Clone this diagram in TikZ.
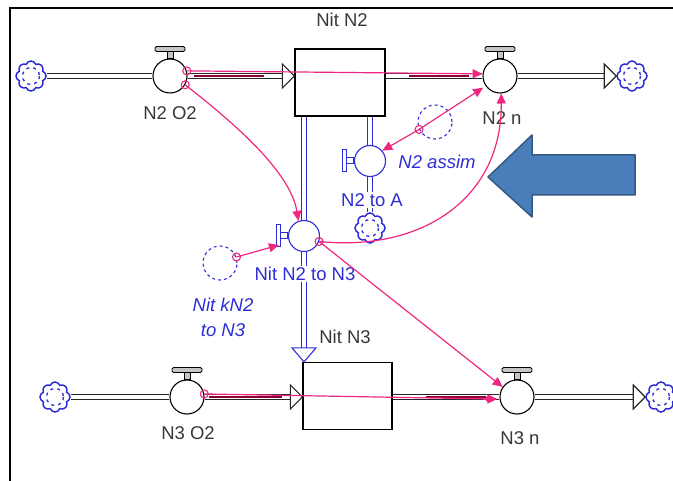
\documentclass[tikz,border=0pt]{standalone}
\usepackage{fontspec}
\setmainfont{Liberation Sans}
\usetikzlibrary{arrows.meta,shapes.symbols,calc,backgrounds}
\definecolor{pk}{RGB}{238,40,128}
\definecolor{dpk}{RGB}{140,0,50}
\definecolor{vb}{RGB}{45,45,215}
\definecolor{tx}{RGB}{55,55,55}
\definecolor{bigb}{RGB}{74,126,187}
\definecolor{bigbd}{RGB}{52,88,132}
\newcommand\hvalve[4]{%
  \node[valve=#4] (#1) at (#2,#3) {};
  \draw[handle=#4] ($(#1.north)+(-3,0)$) rectangle ($(#1.north)+(3,-7)$);
  \draw[handle=#4,rounded corners=1.5pt] ($(#1.north)+(-15,-7)$) rectangle ($(#1.north)+(15,-12)$);}
\newcommand\vvalve[4]{%
  \node[valve=#4,minimum size=31pt] (#1) at (#2,#3) {};
  \draw[draw=#4,fill=white,line width=1pt] ($(#1.west)+(0,-3)$) rectangle ($(#1.west)+(-7,3)$);
  \draw[draw=#4,fill=white,line width=1pt] ($(#1.west)+(-7,-11)$) rectangle ($(#1.west)+(-11,11)$);}
\newcommand\mkcloud[3]{%
  \node[cloudn] (#1) at (#2,#3) {};
  \draw[vb,line width=1.3pt,dash pattern=on 3pt off 4pt] (#1.center) circle[radius=8.5];}
\begin{document}
\begin{tikzpicture}[x=1pt,y=-1pt,
 valve/.style={circle,draw=#1,fill=white,minimum size=34pt,inner sep=0pt,line width=1.1pt},
 stock/.style={draw=black,fill=white,line width=1.2pt,inner sep=0pt},
 pipe/.style={draw=#1,double=white,double distance=3.5pt,line width=1.1pt},
 cloudn/.style={cloud,cloud puffs=8,cloud puff arc=140,aspect=1,draw=vb,fill=white,line width=1.5pt,minimum width=30pt,minimum height=30pt,inner sep=0pt},
 aux/.style={circle,draw=vb,dash pattern=on 3pt off 3pt,minimum size=34pt,inner sep=0pt,line width=1.1pt},
 lbl/.style={font=\fontsize{18.5}{22}\selectfont,text=tx,inner sep=1pt},
 blbl/.style={lbl,text=vb},
 conn/.style={draw=pk,line width=1.2pt,-{Triangle[length=10pt,width=9pt]}},
 org/.style={circle,draw=pk,line width=1.1pt,minimum size=8pt,inner sep=0pt},
 handle/.style={draw=#1,fill=gray!45,line width=0.8pt},
 flowtip/.style={draw=#1,fill=white,line width=1.1pt,line join=miter},
]
\useasboundingbox (0,0) rectangle (673,481);
\draw[line width=2pt] (10,481) -- (10,8) -- (673,8);

% stocks
\node[stock,minimum width=90pt,minimum height=67pt] (NitN2) at (340,82.5) {};
\node[stock,minimum width=89pt,minimum height=67pt] (NitN3) at (347.5,396) {};

% valves
\hvalve{N2O2}{170}{76}{black}
\hvalve{N2n}{500}{76}{black}
\hvalve{N3O2}{187}{397}{black}
\hvalve{N3n}{517}{397}{black}
\vvalve{N23}{304}{236}{vb}
\vvalve{N2A}{370}{161}{vb}

% clouds
\mkcloud{cTL}{31}{76}
\mkcloud{cTR}{632}{76}
\mkcloud{cBL}{55}{397}
\mkcloud{cBR}{661}{397}
\mkcloud{cA}{370}{228}

% auxiliaries
\node[aux] (assim) at (435,122) {};
\node[aux] (kN23) at (220,263) {};

\coordinate (inN2) at (NitN2.west |- N2O2.center);
\coordinate (outN2) at (NitN2.east |- N2n.center);
\coordinate (inN3) at (NitN3.west |- N3O2.center);
\coordinate (outN3) at (NitN3.east |- N3n.center);
\coordinate (botN2a) at (NitN2.south -| N23.center);
\coordinate (botN2b) at (NitN2.south -| N2A.center);
\coordinate (topN3) at (NitN3.north -| N23.center);

\begin{pgfonlayer}{background}
\draw[pipe=black!85] (cTL.east) -- (N2O2.west);
\draw[pipe=black!85,shorten >=11pt] (N2O2.east) -- (inN2);
\draw[pipe=black!85] (outN2) -- (N2n.west);
\draw[pipe=black!85,shorten >=11pt] (N2n.east) -- (cTR.west);
\draw[pipe=black!85] (cBL.east) -- (N3O2.west);
\draw[pipe=black!85,shorten >=11pt] (N3O2.east) -- (inN3);
\draw[pipe=black!85] (outN3) -- (N3n.west);
\draw[pipe=black!85,shorten >=11pt] (N3n.east) -- (cBR.west);
\draw[pipe=vb] (botN2a) -- (N23.north);
\draw[pipe=vb,shorten >=13pt] (N23.south) -- (topN3);
\draw[pipe=vb] (botN2b) -- (N2A.north);
\draw[pipe=vb] (N2A.south) -- (cA.north);
\end{pgfonlayer}

% flow arrow tips
\draw[flowtip=black!85] (inN2) -- ++(-12,-12) -- ++(0,24) -- cycle;
\draw[flowtip=black!85] (cTR.west) -- ++(-12,-12) -- ++(0,24) -- cycle;
\draw[flowtip=black!85] (inN3) -- ++(-12,-12) -- ++(0,24) -- cycle;
\draw[flowtip=black!85] (cBR.west) -- ++(-12,-12) -- ++(0,24) -- cycle;
\draw[flowtip=vb] (topN3) -- ++(-12,-14) -- ++(24,0) -- cycle;

% labels
\node[lbl] (lNitN2) at (342,20) {Nit N2};
\node[lbl] (lN2O2) at (170,113) {N2 O2};
\node[lbl] (lN2n) at (502,118) {N2 n};
\node[blbl,font=\fontsize{18.5}{22}\selectfont\itshape] (lassim) at (437,162) {N2 assim};
\node[blbl,fill=white] (lN2A) at (372,200) {N2 to A};
\node[blbl,fill=white] (lN23) at (305,274) {Nit N2 to N3};
\node[blbl,font=\fontsize{18.5}{25}\selectfont\itshape,align=center] (lkN23) at (223,317) {Nit kN2\\to N3};
\node[lbl] (lNitN3) at (345,337) {Nit N3};
\node[lbl] (lN3O2) at (188,433) {N3 O2};
\node[lbl] (lN3n) at (520,438) {N3 n};

% dark highlighted pipe segments
\draw[dpk,line width=2.4pt] ($(N2O2.east)+(6,0)$) -- ++(70,0);
\draw[dpk,line width=2.4pt] ($(N2n.west)+(-73,0)$) -- ++(60,0);
\draw[dpk,line width=2.4pt] ($(N3O2.east)+(4,0)$) -- ++(73,0);
\draw[dpk,line width=2.4pt] ($(N3n.west)+(-73,0)$) -- ++(60,0);

% information connectors
\coordinate (h23) at ($(N23.west)+(-9,9)$);
\node[org] (o1) at (N2O2.17) {};
\draw[conn] (N2O2.17) -- (N2n.173);
\node[org] (o2) at (N2O2.-30) {};
\draw[conn] (N2O2.-30) .. controls (230,120) and (290,170) .. (N23.110);
\node[org] (o3) at (kN23.20) {};
\draw[conn] (kN23.20) -- (h23);
\node[org] (o4) at (N23.-20) {};
\draw[conn] (N23.-20) .. controls (420,252) and (502,200) .. (N2n.-86);
\draw[conn] (N23.-20) -- (N3n.145);
\node[org] (o5) at (assim.205) {};
\draw[conn] (assim.205) -- (N2A.40);
\draw[conn,shorten >=3pt] (assim.205) -- (N2n.215);
\node[org] (o6) at (N3O2.10) {};
\draw[draw=pk,line width=1.2pt,-{Circle[length=6pt]}] (N3O2.10) -- ($(N3n.west)+(-8,2)$);
\draw[conn] ($(N3n.west)+(-16,2)$) -- ($(N3n.west)+(-2,2)$);

% big arrow
\draw[bigbd,fill=bigb,line width=1.5pt,line join=round] (488,177) -- (532,135) -- (532,155) -- (635,155) -- (635,195) -- (532,195) -- (532,217) -- cycle;
\end{tikzpicture}
\end{document}
